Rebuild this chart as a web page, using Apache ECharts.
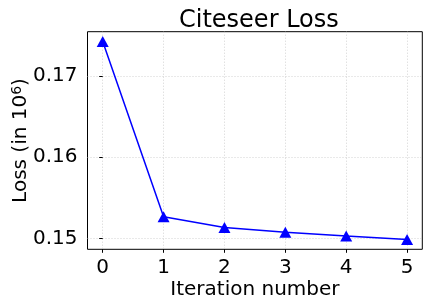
<!DOCTYPE html>
<html>
<head>
<meta charset="utf-8">
<script src="https://cdn.jsdelivr.net/npm/echarts@6/dist/echarts.min.js"></script>
<style>html,body{margin:0;padding:0;background:#fff}#c{width:432px;height:305px}</style>
</head>
<body>
<div id="c"></div>
<script>
const iterations = [0, 1, 2, 3, 4, 5];
const lossValues = [0.17424, 0.15266, 0.15135, 0.15074, 0.15028, 0.14987];
const xTicks = [0, 1, 2, 3, 4, 5];
const yTicks = [0.15, 0.16, 0.17];
const titleText = 'Citeseer Loss';
const xName = 'Iteration number';

const xPad = (Math.max(...iterations) - Math.min(...iterations)) * 0.05;
const yPad = (Math.max(...lossValues) - Math.min(...lossValues)) * 0.05;

const chart = echarts.init(document.getElementById('c'), null, {renderer: 'canvas'});
const font = 'DejaVu Sans';
chart.setOption({
  animation: false,
  backgroundColor: '#fff',
  title: {
    text: titleText, left: 174, top: 4,
    textStyle: {fontFamily: font, fontSize: 24, fontWeight: 'normal', color: '#000'}
  },
  grid: {left: 87.5, right: 9.7, top: 31.7, bottom: 55.7, show: true, borderColor: '#000', borderWidth: 1,
    containLabel: false, outerBoundsMode: 'none'},
  xAxis: {
    type: 'value',
    min: Math.min(...iterations) - xPad, max: Math.max(...iterations) + xPad,
    name: xName, nameLocation: 'middle', nameGap: 30, nameMoveOverlap: false,
    nameTextStyle: {fontFamily: font, fontSize: 20, color: '#000'},
    axisLine: {show: false},
    axisTick: {show: true, customValues: xTicks, length: 3.5, lineStyle: {color: '#000'}},
    axisLabel: {customValues: xTicks, fontFamily: font, fontSize: 20, color: '#000', margin: 8},
    splitLine: {show: true, lineStyle: {color: '#c8c8c8', type: [1, 2], width: 0.8}}
  },
  yAxis: {
    type: 'value',
    min: Math.min(...lossValues) - yPad, max: Math.max(...lossValues) + yPad,
    name: 'Loss (in 10{sup|6})', nameLocation: 'middle', nameGap: 57, nameMoveOverlap: false,
    nameTextStyle: {fontFamily: font, fontSize: 20, color: '#000',
      rich: {sup: {fontFamily: font, fontSize: 14, color: '#000', verticalAlign: 'top', lineHeight: 14, padding: [0,0,10,0]}}},
    axisLine: {show: false},
    axisTick: {show: true, customValues: yTicks, length: 3.5, lineStyle: {color: '#000'}},
    axisLabel: {customValues: yTicks, fontFamily: font, fontSize: 20, color: '#000', margin: 10,
      formatter: v => v.toFixed(2)},
    splitLine: {show: true, lineStyle: {color: '#c8c8c8', type: [1, 2], width: 0.8}}
  },
  series: [{
    type: 'line',
    data: iterations.map((x, i) => [x, lossValues[i]]),
    symbol: 'triangle', symbolSize: [12, 11],
    lineStyle: {color: '#0000ff', width: 1.5},
    itemStyle: {color: '#0000ff'},
    clip: false
  }]
});
</script>
</body>
</html>
